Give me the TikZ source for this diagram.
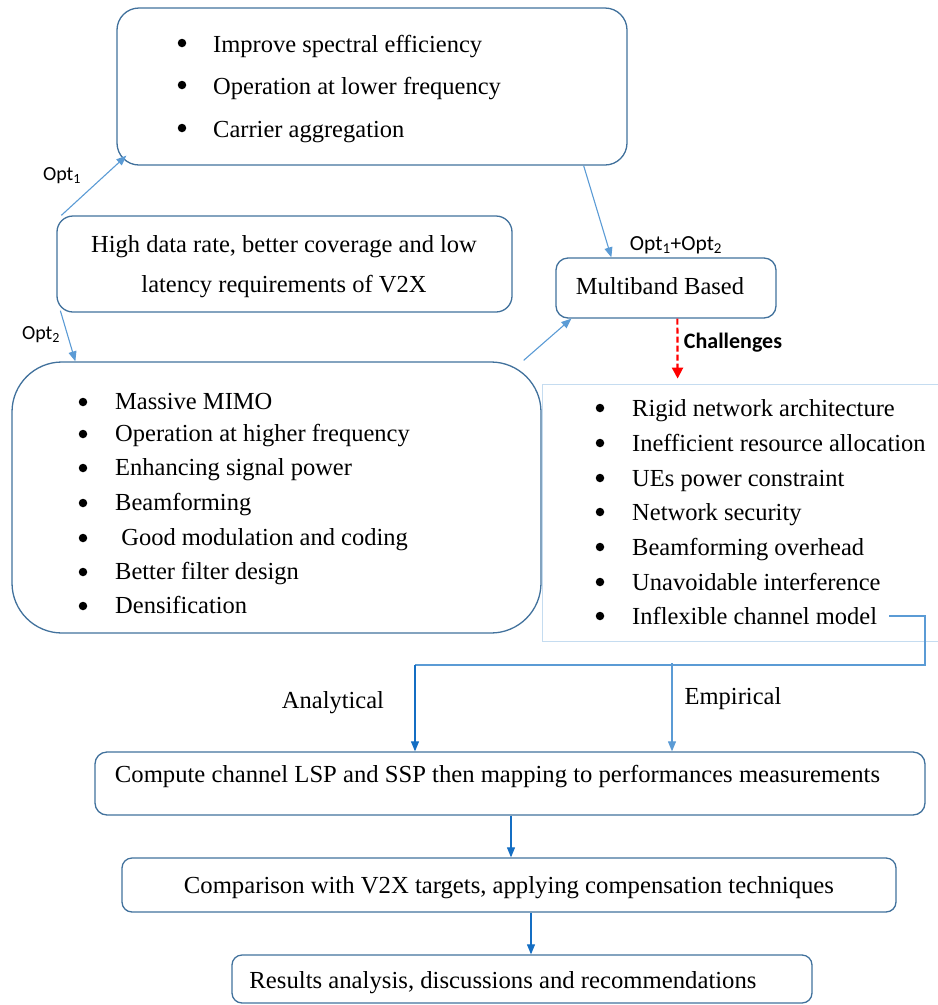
\documentclass[tikz,border=0pt]{standalone}
\usepackage{fontspec}
\usepackage{graphicx}
\setmainfont{Liberation Serif}
\newfontfamily\lblfont{Carlito}
\usetikzlibrary{arrows.meta,calc}
\definecolor{boxblue}{RGB}{65,113,156}
\definecolor{arrlight}{RGB}{91,155,213}
\definecolor{arrdark}{RGB}{20,110,195}
\definecolor{chline}{RGB}{197,220,240}
\begin{document}
\begin{tikzpicture}[x=1pt,y=-1pt,
  box/.style={draw=boxblue, line width=1.3pt, inner sep=0pt},
  txt/.style={inner sep=0pt, font=\fontsize{24.5}{29}\selectfont},
  item/.style={txt, anchor=base west},
  bul/.style={circle, fill=black, inner sep=0pt, minimum size=8.5pt},
  lbl/.style={inner sep=0pt, font=\lblfont\fontsize{20}{24}\selectfont},
  arr/.style={draw=arrlight, line width=1.1pt, -{Triangle[length=10pt,width=8pt]}},
  arrd/.style={draw=arrdark, line width=1.1pt, -{Triangle[length=10pt,width=8pt]}},
]
\useasboundingbox (0,0) rectangle (938,1005);

% boxes
\node[box, rounded corners=22pt, minimum width=510pt, minimum height=157pt] (top) at (372,86.5) {};
\node[box, rounded corners=16pt, minimum width=455pt, minimum height=96pt] (high) at (284.5,264) {};
\node[box, rounded corners=12pt, minimum width=220pt, minimum height=60pt] (multi) at (666,288) {};
\node[box, rounded corners=50pt, minimum width=529pt, minimum height=271pt] (opt2box) at (276.5,497.5) {};
\node[draw=chline, line width=0.8pt, inner sep=0pt, minimum width=410pt, minimum height=257pt] (chal) at (747,512.5) {};
\node[box, rounded corners=12pt, minimum width=830pt, minimum height=63pt] (comp) at (510,783.5) {};
\node[box, rounded corners=10pt, minimum width=774pt, minimum height=54pt] (cmpr) at (509,885) {};
\node[box, rounded corners=10pt, minimum width=580pt, minimum height=48pt] (res) at (522,979) {};

% top box list
\foreach \y/\t [count=\i] in {43/Improve spectral efficiency, 85/Operation at lower frequency, 128/Carrier aggregation}{
  \node[bul] (tb\i) at (182,\y) {};
  \node[item] (tt\i) at (213,\y+9) {\t};
}
% high box
\node[txt] (high1) at (284,247) {High data rate, better coverage and low};
\node[txt] (high2) at (284,287) {latency requirements of V2X};
% multiband
\node[txt] (multit) at (660,286) {Multiband Based};
% opt2 list
\foreach \y/\t [count=\i] in {402/Massive MIMO, 434/Operation at higher frequency, 468/Enhancing signal power, 503/Beamforming, 538/{\ Good modulation and coding}, 572/Better filter design, 606/Densification}{
  \node[bul] (ob\i) at (83,\y) {};
  \node[item] (ot\i) at (115,\y+7) {\t};
}
% challenges list
\foreach \y/\t [count=\i] in {408/Rigid network architecture, 443/Inefficient resource allocation, 478/UEs power constraint, 512/Network security, 547/Beamforming overhead, 582/Unavoidable interference, 616/Inflexible channel model}{
  \node[bul] (cb\i) at (600,\y) {};
  \node[item] (ct\i) at (632,\y+8) {\t};
}
% bottom texts
\node[txt, anchor=base] (compt) at (497.5,782) {\resizebox{765pt}{\height}{Compute channel LSP and SSP then mapping to performances measurements}};
\node[txt, anchor=base] (cmprt) at (509,893) {\resizebox{650pt}{\height}{Comparison with V2X targets, applying compensation techniques}};
\node[txt, anchor=base] (rest) at (503,988) {\resizebox{507pt}{\height}{Results analysis, discussions and recommendations}};

% labels
\node[lbl] (l1) at (62,176) {Opt\textsubscript{1}};
\node[lbl] (l2) at (41,335) {Opt\textsubscript{2}};
\node[lbl, font=\lblfont\fontsize{21.5}{24}\selectfont] (l3) at (676,245) {Opt\textsubscript{1}+Opt\textsubscript{2}};
\node[lbl, font=\lblfont\bfseries\fontsize{22}{24}\selectfont] (l4) at (733,343) {Challenges};
\node[txt] (l5) at (333,703) {Analytical};
\node[txt] (l6) at (733,699) {Empirical};

% connectors
\draw[arr] ($(high.north west)+(5,0)$) -- ($(top.south west)+(10,-10)$);
\draw[arr] ($(high.south west)+(4,-2)$) -- ($(opt2box.north west)+(64,0)$);
\draw[arr] ($(top.south east)+(-44,0)$) -- ($(multi.north west)+(56,0)$);
\draw[arr] ($(opt2box.north east)+(-18,-1)$) -- ($(multi.south west)+(16,0)$);
\draw[draw=red, line width=2.2pt, dash pattern=on 6pt off 3pt, -{Triangle[length=11pt,width=11pt]}] ($(multi.south west)+(122,0)$) -- ($(chal.north west)+(136,-5)$);

\coordinate (c1) at ($(ct7.base east)+(12,-8)$);
\coordinate (c2) at (925,665);
\coordinate (c3) at (415,665);
\coordinate (c4) at (672,663);
\draw[draw=arrlight, line width=1.1pt] (c1) -- (c1 -| c2) -- (c2) -- (c3);
\draw[arrd] (c3) -- (c3 |- comp.north);
\draw[arr] (c4) -- (c4 |- comp.north);
\draw[arrd] (comp.south -| 511,0) -- (cmpr.north -| 511,0);
\draw[arrd] (cmpr.south -| 531,0) -- (res.north -| 531,0);
\end{tikzpicture}
\end{document}
